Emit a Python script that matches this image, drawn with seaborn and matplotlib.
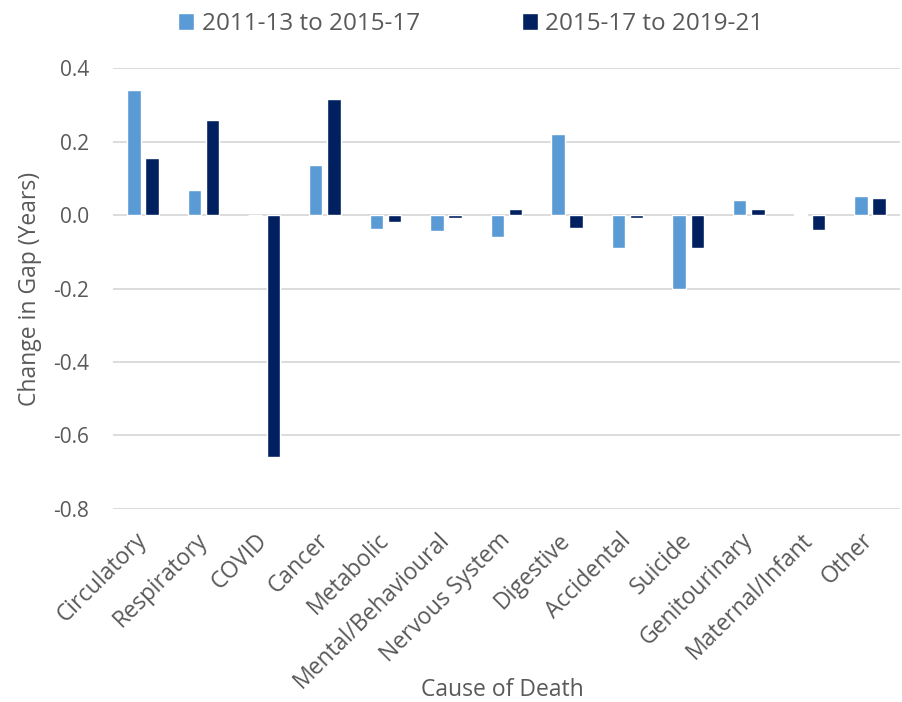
import matplotlib
matplotlib.use("Agg")
import matplotlib.pyplot as plt
import seaborn as sns
import pandas as pd

causes = ["Circulatory", "Respiratory", "COVID", "Cancer", "Metabolic",
          "Mental/Behavioural", "Nervous System", "Digestive", "Accidental",
          "Suicide", "Genitourinary", "Maternal/Infant", "Other"]
period_a = "2011-13 to 2015-17"
period_b = "2015-17 to 2019-21"
change_a = [0.341, 0.067, 0.0, 0.137, -0.037, -0.043, -0.059, 0.220, -0.089,
            -0.200, 0.040, 0.004, 0.051]
change_b = [0.154, 0.259, -0.658, 0.316, -0.019, -0.007, 0.016, -0.036, -0.007,
            -0.090, 0.016, -0.042, 0.046]
y_ticks = [-0.8, -0.6, -0.4, -0.2, 0.0, 0.2, 0.4]

df = pd.DataFrame({
    "Cause": causes * 2,
    "Period": [period_a] * len(causes) + [period_b] * len(causes),
    "Change": change_a + change_b,
})

sns.set_theme(style="white")
plt.rcParams["font.family"] = ["Open Sans", "DejaVu Sans"]
text_grey = "#595959"

fig = plt.figure(figsize=(9.02, 7.02), dpi=100)
ax = fig.add_axes([0.125, 0.275, 0.873, 0.628])

sns.barplot(data=df, x="Cause", y="Change", hue="Period",
            palette=["#5B9BD5", "#002060"], width=0.6, gap=0.26,
            saturation=1, ax=ax, legend=True, zorder=3)

ax.set_ylim(-0.8, 0.4)
ax.set_yticks(y_ticks)
ax.set_yticklabels([f"{v:.1f}" for v in y_ticks], fontsize=15, color=text_grey)
ax.set_xlim(-0.5, len(causes) - 0.5)
ax.yaxis.grid(True, color="#D9D9D9", linewidth=1.3, zorder=0)
ax.set_axisbelow(True)
for s in ax.spines.values():
    s.set_visible(False)
ax.tick_params(axis="both", length=0)
ax.tick_params(axis="y", pad=17)

ax.set_xticks(range(len(causes)))
ax.set_xticklabels(causes, rotation=45, ha="right", va="center",
                   rotation_mode="anchor", fontsize=16.5, color=text_grey)
ax.tick_params(axis="x", pad=20)

ax.set_ylabel("Change in Gap (Years)", fontsize=16.5, color=text_grey)
ax.yaxis.set_label_coords(-0.090, 0.5)
ax.set_xlabel("Cause of Death", fontsize=16.5, color=text_grey, va="center")
ax.xaxis.set_label_coords(0.495, -0.41)

handles, labels = ax.get_legend_handles_labels()
ax.legend(handles, labels, loc="center", bbox_to_anchor=(0.522, 0.966),
          bbox_transform=fig.transFigure, ncol=2, frameon=False,
          fontsize=17.5, labelcolor=text_grey, handlelength=0.66,
          handleheight=0.66, handletextpad=0.3, columnspacing=4.2,
          borderpad=0)

fig.savefig("out.png", dpi=100)
